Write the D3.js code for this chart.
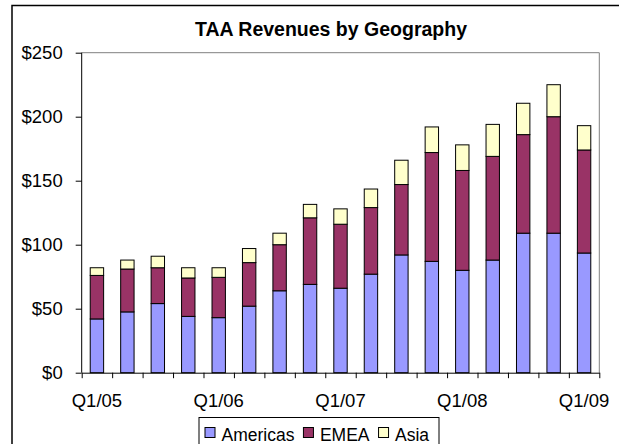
<!DOCTYPE html>
<html>
<head>
<meta charset="utf-8">
<script src="https://cdn.jsdelivr.net/npm/d3@7"></script>
<style>
  body { margin: 0; background: #fff; }
  svg text { font-family: "Liberation Sans", Arial, sans-serif; fill: #000; }
</style>
</head>
<body>
<div id="chart"></div>
<script>
// data ($ millions per quarter)
var quarters = ["Q1/05", "Q2/05", "Q3/05", "Q4/05", "Q1/06", "Q2/06", "Q3/06", "Q4/06",
    "Q1/07", "Q2/07", "Q3/07", "Q4/07", "Q1/08", "Q2/08", "Q3/08", "Q4/08", "Q1/09"];
var americas = [42, 47.5, 54, 44, 43, 52, 64, 69, 66, 77, 92, 87, 80, 88, 109, 109, 93.5];
var emea = [34, 33.5, 28, 30, 31.5, 34, 36, 52, 50, 52, 55, 85, 78, 81, 77, 91, 80.5];
var asia = [6, 7, 9, 8, 7.5, 11, 9, 10.5, 12, 14.5, 19, 20, 20, 25, 24.5, 25, 19];
var labelQuarters = ["Q1/05", "Q1/06", "Q1/07", "Q1/08", "Q1/09"];
var yTicks = [0, 50, 100, 150, 200, 250];
var seriesNames = ["Americas", "EMEA", "Asia"];

var W = 619, H = 444;
var margins = { left: 81.7, right: 19.7, top: 52.7, bottom: 71.3 };
var width = W - margins.left - margins.right;
var height = H - margins.top - margins.bottom;
var colors = { Americas: "#9999ff", EMEA: "#993366", Asia: "#ffffcc" };

var root = d3.select("#chart").append("svg")
    .attr("width", W)
    .attr("height", H);

// outer chart frame (runs off the right and bottom edges)
root.append("rect")
    .attr("x", 12).attr("y", 5.5)
    .attr("width", 640).attr("height", 480)
    .attr("fill", "#fff")
    .attr("stroke", "#000")
    .attr("stroke-width", 1.5);

root.append("text")
    .attr("x", 331).attr("y", 35.5)
    .attr("text-anchor", "middle")
    .style("font-size", "19.5px")
    .style("font-weight", "bold")
    .text("TAA Revenues by Geography");

var svg = root.append("g")
    .attr("transform", "translate(" + margins.left + "," + margins.top + ")");

var x = d3.scaleBand().domain(quarters).range([0, width])
    .paddingInner(0.56).paddingOuter(0.28);
var xEdge = d3.scaleLinear().domain([0, quarters.length]).range([0, width]);
var y = d3.scaleLinear().domain([0, 250]).range([height, 0]);

// plot area border (gray top/right)
svg.append("path")
    .attr("d", "M0,0H" + width + "V" + height)
    .attr("fill", "none")
    .attr("stroke", "#808080")
    .attr("stroke-width", 1);

// stacked bars
var table = quarters.map(function (q, i) {
    return { quarter: q, Americas: americas[i], EMEA: emea[i], Asia: asia[i] };
});
var stacked = d3.stack().keys(seriesNames)(table);

svg.selectAll(".series")
    .data(stacked)
    .join("g")
    .attr("class", "series")
    .attr("fill", function (d) { return colors[d.key]; })
    .selectAll("rect")
    .data(function (d) { return d; })
    .join("rect")
    .attr("x", function (d) { return x(d.data.quarter); })
    .attr("y", function (d) { return y(d[1]); })
    .attr("width", x.bandwidth())
    .attr("height", function (d) { return y(d[0]) - y(d[1]); })
    .attr("stroke", "#000")
    .attr("stroke-width", 1);

// y axis
var yAxis = d3.axisLeft(y)
    .tickValues(yTicks)
    .tickSize(6)
    .tickPadding(13)
    .tickFormat(function (d) { return "$" + d; });
var gy = svg.append("g").attr("class", "y axis").call(yAxis);
gy.select(".domain").attr("stroke", "#000").attr("d", "M0," + height + "V0");
gy.selectAll(".tick line").attr("stroke", "#000");
gy.selectAll("text").style("font-size", "18.5px").attr("dy", "0.34em");

// x axis: ticks sit between the quarters
var xAxis = d3.axisBottom(xEdge)
    .tickValues(d3.range(quarters.length + 1))
    .tickSize(5.5)
    .tickSizeOuter(0)
    .tickFormat("");
var gx = svg.append("g")
    .attr("class", "x axis")
    .attr("transform", "translate(0," + height + ")")
    .call(xAxis);
gx.select(".domain").attr("stroke", "#000");
gx.selectAll(".tick line").attr("stroke", "#000");

svg.selectAll(".x-label")
    .data(labelQuarters)
    .join("text")
    .attr("class", "x-label")
    .attr("x", function (d) { return x(d) + x.bandwidth() / 2; })
    .attr("y", height + 34.6)
    .attr("text-anchor", "middle")
    .style("font-size", "18.5px")
    .text(function (d) { return d; });

// legend
var legend = root.append("g").attr("transform", "translate(199,417.5)");
legend.append("rect")
    .attr("width", 240).attr("height", 40)
    .attr("fill", "#fff")
    .attr("stroke", "#000")
    .attr("stroke-width", 1);

var lx = 6;
seriesNames.forEach(function (name) {
    legend.append("rect")
        .attr("x", lx).attr("y", 10)
        .attr("width", 10).attr("height", 10)
        .attr("fill", colors[name])
        .attr("stroke", "#000")
        .attr("stroke-width", 1);
    var t = legend.append("text")
        .attr("x", lx + 16.5).attr("y", 23)
        .style("font-size", "17.5px")
        .text(name);
    lx += 16.5 + t.node().getComputedTextLength() + 9;
});
</script>
</body>
</html>
